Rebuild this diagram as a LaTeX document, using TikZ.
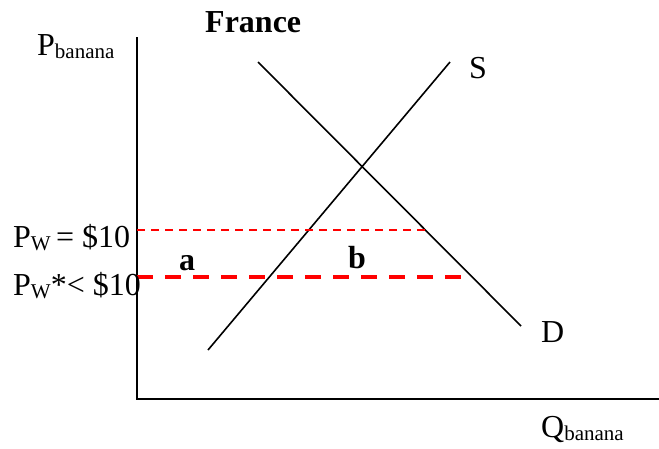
\documentclass[tikz,border=0pt]{standalone}
\usepackage{fontspec}
\setmainfont{Liberation Serif}
\usetikzlibrary{positioning}
\newcommand{\lbsub}[1]{\raisebox{-0.12em}{\fontsize{21}{21}\selectfont #1}}

\begin{document}
\begin{tikzpicture}[
    x=1pt, y=-1pt,
    axis/.style={line width=2pt, black},
    curve/.style={line width=1.6pt, black},
    pworld/.style={red, line width=1.8pt, dash pattern=on 8pt off 6pt},
    ptariff/.style={red, line width=4pt, dash pattern=on 16pt off 12pt},
    lbl/.style={inner sep=0pt, anchor=base west, font=\fontsize{32}{34}\selectfont},
    boldlbl/.style={lbl, font=\fontsize{32}{34}\selectfont\bfseries}
]
\useasboundingbox (0,0) rectangle (659,448);
% axes
\coordinate (origin) at (137,399);
\coordinate (ytop) at (137,37);
\coordinate (xend) at (659,399);
\draw[axis] (ytop) -- (origin) -- (xend);
% supply and demand
\coordinate (sbot) at (208,350);
\coordinate (stop) at (450,62);
\coordinate (dtop) at (258,62);
\coordinate (dbot) at (521,326);
\draw[curve] (sbot) -- (stop);
\draw[curve] (dtop) -- (dbot);
% world prices
\coordinate (pwl) at (137,230);
\coordinate (pwr) at (425,230);
\coordinate (pwsl) at (137,277);
\coordinate (pwsr) at (461,277);
\draw[pworld] (pwl) -- (pwr);
\draw[ptariff] (pwsl) -- (pwsr);
% labels
\node[boldlbl] (title) at (205,32) {France};
\node[lbl] (ylabel) at (37,55) {P\lbsub{banana}};
\node[lbl] (xlabel) at (541,437) {Q\lbsub{banana}};
\node[lbl] (slabel) at (469,78) {S};
\node[lbl] (dlabel) at (541,342) {D};
\node[lbl] (pw) at (13,247) {P\lbsub{W}\,= \$10};
\node[lbl] (pwstar) at (13,295) {P\lbsub{W}*< \$10};
\node[boldlbl, anchor=base] (areaa) at (187,270) {a};
\node[boldlbl, anchor=base] (areab) at (357,268) {b};
\end{tikzpicture}
\end{document}
